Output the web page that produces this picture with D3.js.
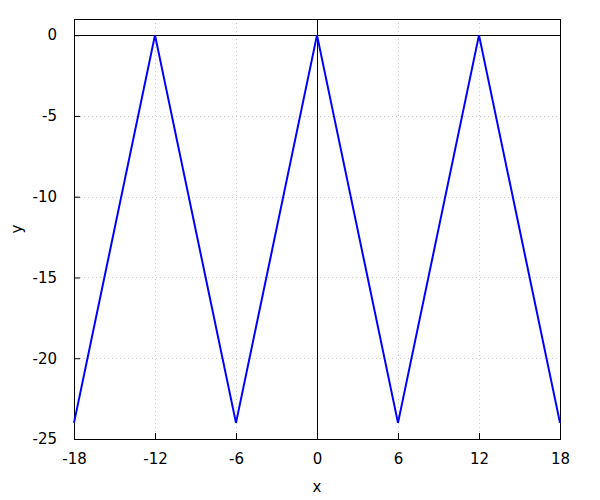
<!DOCTYPE html>
<html>
<head>
<meta charset="utf-8">
<script src="https://cdn.jsdelivr.net/npm/d3@7"></script>
<style>
  body { margin: 0; background: #fff; }
  text { font-family: "DejaVu Sans", sans-serif; font-size: 15px; fill: #000; }
</style>
</head>
<body>
<div class="chart"></div>
<script>
const xs = [-18, -12, -6, 0, 6, 12, 18];
const ys = [-24, 0, -24, 0, -24, 0, -24];
const xTicks = [-18, -12, -6, 0, 6, 12, 18];
const yTicks = [0, -5, -10, -15, -20, -25];

const margin = ({top: 19, right: 40, bottom: 61, left: 74});
const width = 600 - margin.left - margin.right, height = 500 - margin.top - margin.bottom;

var svg = d3.select('.chart')
            .append('svg')
            .attr("width", 600)
            .attr("height", 500)
            .append("g")
            .attr("transform", "translate(" + margin.left + "," + margin.top + ")");

var x = d3.scaleLinear().domain([-18, 18]).range([0, width]);
var y = d3.scaleLinear().domain([-25, 1]).range([height, 0]);

// dotted grid
svg.append("g").selectAll("line")
   .data(xTicks.filter(d => d != -18 && d != 18 && d != 0))
   .join("line")
   .attr("x1", d => x(d) + 0.5).attr("x2", d => x(d) + 0.5)
   .attr("y1", 0).attr("y2", height - 6)
   .attr("stroke", "#c8c8c8").attr("stroke-dasharray", "1,3");

svg.append("g").selectAll("line")
   .data(yTicks.filter(d => d != -25 && d != 0))
   .join("line")
   .attr("x1", 6).attr("x2", width)
   .attr("y1", d => Math.round(y(d)) + 0.5).attr("y2", d => Math.round(y(d)) + 0.5)
   .attr("stroke", "#c8c8c8").attr("stroke-dasharray", "1,3");

// zero axes
svg.append("line")
   .attr("x1", 0).attr("x2", width)
   .attr("y1", Math.round(y(0)) + 0.5).attr("y2", Math.round(y(0)) + 0.5)
   .attr("stroke", "#000");
svg.append("line")
   .attr("x1", Math.round(x(0)) + 0.5).attr("x2", Math.round(x(0)) + 0.5)
   .attr("y1", 0).attr("y2", height)
   .attr("stroke", "#000");

const fmt = d => String(d);
const xAxis = d3.axisBottom(x).tickValues(xTicks).tickFormat(fmt).tickSizeInner(-6).tickSizeOuter(0).tickPadding(14);
const yAxis = d3.axisLeft(y).tickValues(yTicks).tickFormat(fmt).tickSizeInner(-6).tickSizeOuter(0).tickPadding(17);

svg.append("g")
   .attr("class", "axis x-axis")
   .attr("transform", `translate(0, ${height})`)
   .call(xAxis);

svg.append("g")
   .attr("class", "axis y-axis")
   .call(yAxis);

svg.selectAll(".axis path").remove();
svg.selectAll(".axis text").attr("font-size", 15).attr("font-family", "DejaVu Sans, sans-serif");
svg.selectAll(".axis line").attr("stroke", "#000");

// border
svg.append("rect")
   .attr("x", 0.5).attr("y", 0.5)
   .attr("width", width).attr("height", height)
   .attr("fill", "none").attr("stroke", "#000");

// the line
var line = d3.line().x(d => x(d[0])).y(d => y(d[1]));
svg.append("path")
   .datum(xs.map((d, i) => [d, ys[i]]))
   .attr("d", line)
   .attr("fill", "none")
   .attr("stroke", "#0000ff")
   .attr("stroke-width", 2);

svg.append("text")
   .attr("x", width / 2)
   .attr("y", height + 53)
   .attr("text-anchor", "middle")
   .text("x");

svg.append("text")
   .attr("transform", `translate(${-52}, ${height / 2}) rotate(-90)`)
   .attr("text-anchor", "middle")
   .text("y");
</script>
</body>
</html>
